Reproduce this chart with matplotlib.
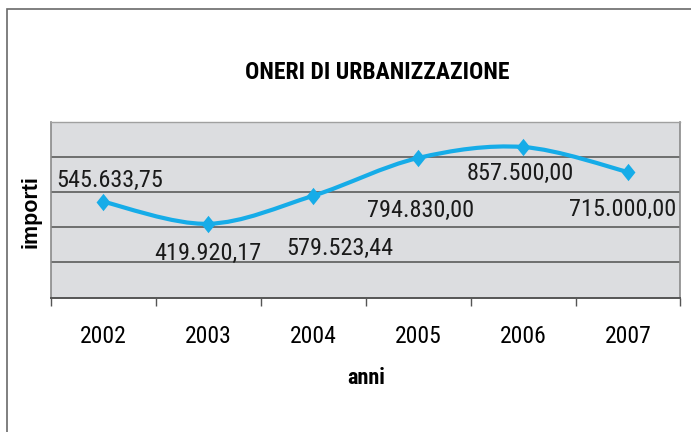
import matplotlib
matplotlib.use("Agg")
import matplotlib.pyplot as plt
from matplotlib.path import Path
from matplotlib.patches import PathPatch, Rectangle
from matplotlib import font_manager as fm
import numpy as np

# ---- data ----
years = ["2002", "2003", "2004", "2005", "2006", "2007"]
values = [545633.75, 419920.17, 579523.44, 794830.00, 857500.00, 715000.00]
value_labels = ["545.633,75", "419.920,17", "579.523,44", "794.830,00", "857.500,00", "715.000,00"]
title = "ONERI DI URBANIZZAZIONE"
xlabel = "anni"
ylabel = "importi"

# label offsets in pixels (dx, dy) relative to each marker
label_offsets = [(7, 15), (0, -36), (27, -59), (2, -59), (-3, -33), (-5, -44)]

names = {f.name for f in fm.fontManager.ttflist}
NARROW = "Liberation Sans"
for cand in ["Nimbus Sans Narrow", "Liberation Sans Narrow", "Arial Narrow",
             "Roboto Condensed", "Archivo Narrow", "Barlow Semi Condensed"]:
    if cand in names:
        NARROW = cand
        break
REG = "Liberation Sans"

W, H = 691, 432
fig = plt.figure(figsize=(W / 100, H / 100), dpi=100)

# outer chart frame (partly outside figure)
fig.patches.append(Rectangle((6.5 / W, -0.1), 2.0, 1 - 8.5 / H + 0.1,
                             transform=fig.transFigure, fill=False,
                             edgecolor="#6a6a6a", linewidth=1.2))

left, right, top, bottom = 50.7, 680.5, 122, 297.5
ax = fig.add_axes([left / W, 1 - bottom / H, (right - left) / W, (bottom - top) / H])
ax.set_facecolor("#dcdde0")
ax.set_xlim(-0.5, 5.5)
ax.set_ylim(0, 1000000)

# gridlines
ax.set_yticks([200000, 400000, 600000, 800000])
ax.yaxis.grid(True, color="#6e6e6e", linewidth=1.4)
ax.tick_params(axis="y", left=False, labelleft=False)
ax.set_axisbelow(True)

for side in ["left", "right"]:
    ax.spines[side].set_color("#8a8a8a")
    ax.spines[side].set_linewidth(1.2)
ax.spines["top"].set_color("#a0a0a0")
ax.spines["top"].set_linewidth(1.0)
ax.spines["bottom"].set_color("#555555")
ax.spines["bottom"].set_linewidth(1.4)

# category ticks at boundaries, labels at centres
x = np.arange(len(years))
ax.set_xticks(np.arange(-0.5, len(years), 1.0))
ax.set_xticklabels([])
ax.tick_params(axis="x", which="major", direction="out", length=5.8, width=1.0, color="#555555")
ax.set_xticks(x, minor=True)
ax.set_xticklabels(years, minor=True, fontsize=17, family=NARROW)
ax.tick_params(axis="x", which="minor", length=0, pad=19.5)

# smoothed line (Catmull-Rom as cubic Bezier, computed from the data)
pts = np.column_stack([x, values]).astype(float)
ext = np.vstack([pts[0], pts, pts[-1]])
verts = [tuple(pts[0])]
codes = [Path.MOVETO]
for i in range(len(pts) - 1):
    p0, p1, p2, p3 = ext[i], ext[i + 1], ext[i + 2], ext[i + 3]
    c1 = p1 + (p2 - p0) / 6.0
    c2 = p2 - (p3 - p1) / 6.0
    verts += [tuple(c1), tuple(c2), tuple(p2)]
    codes += [Path.CURVE4] * 3
line_color = "#16ace8"
ax.add_patch(PathPatch(Path(verts, codes), facecolor="none", edgecolor=line_color,
                       linewidth=3.0, capstyle="round", joinstyle="round", zorder=3))

diamond = [(0, 1), (0.8, 0), (0, -1), (-0.8, 0), (0, 1)]
ax.plot(x, values, linestyle="none", marker=diamond, markersize=12.5,
        color=line_color, markeredgewidth=0, zorder=4)

for xi, v, lab, (dx, dy) in zip(x, values, value_labels, label_offsets):
    ax.annotate(lab, (xi, v), xytext=(dx, dy), textcoords="offset pixels",
                ha="center", va="baseline", fontsize=17.5, family=NARROW,
                color="#1a1a1a", zorder=5, annotation_clip=False)

fig.text(377 / W, 1 - 72.5 / H, title, ha="center", va="center",
         fontsize=17, fontweight="bold", family=NARROW)
fig.text(366 / W, 1 - 378 / H, xlabel, ha="center", va="center",
         fontsize=16, fontweight="bold", family=NARROW)
fig.text(31 / W, 1 - 212 / H, ylabel, ha="center", va="center", rotation=90,
         fontsize=15.5, fontweight="bold", family=REG)

fig.savefig("out.png", dpi=100)
